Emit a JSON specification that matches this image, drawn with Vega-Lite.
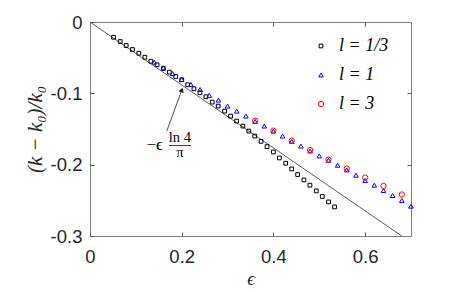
{
  "$schema": "https://vega.github.io/schema/vega-lite/v6.json",
  "width": 321,
  "height": 214,
  "autosize": {"type": "none"},
  "padding": {"left": 90, "top": 22, "right": 44, "bottom": 56},
  "background": "white",
  "config": {
    "view": {"stroke": "#808080", "strokeWidth": 1},
    "font": "Liberation Sans"
  },
  "datasets": {
    "ref": [{"eps": 0, "val": 0}, {"eps": 0.6798, "val": -0.3}],
    "pts": [
      {"eps": 0.0513, "val": -0.0214, "series": "l = 1/3"},
      {"eps": 0.0659, "val": -0.0274, "series": "l = 1/3"},
      {"eps": 0.0789, "val": -0.0330, "series": "l = 1/3"},
      {"eps": 0.0926, "val": -0.0386, "series": "l = 1/3"},
      {"eps": 0.1065, "val": -0.0438, "series": "l = 1/3"},
      {"eps": 0.1196, "val": -0.0494, "series": "l = 1/3"},
      {"eps": 0.1326, "val": -0.0550, "series": "l = 1/3"},
      {"eps": 0.1463, "val": -0.0600, "series": "l = 1/3"},
      {"eps": 0.1600, "val": -0.0652, "series": "l = 1/3"},
      {"eps": 0.1730, "val": -0.0703, "series": "l = 1/3"},
      {"eps": 0.1870, "val": -0.0764, "series": "l = 1/3"},
      {"eps": 0.2000, "val": -0.0810, "series": "l = 1/3"},
      {"eps": 0.2130, "val": -0.0880, "series": "l = 1/3"},
      {"eps": 0.2267, "val": -0.0936, "series": "l = 1/3"},
      {"eps": 0.2398, "val": -0.0992, "series": "l = 1/3"},
      {"eps": 0.2528, "val": -0.1048, "series": "l = 1/3"},
      {"eps": 0.2665, "val": -0.1123, "series": "l = 1/3"},
      {"eps": 0.2796, "val": -0.1179, "series": "l = 1/3"},
      {"eps": 0.2935, "val": -0.1249, "series": "l = 1/3"},
      {"eps": 0.3065, "val": -0.1319, "series": "l = 1/3"},
      {"eps": 0.3196, "val": -0.1389, "series": "l = 1/3"},
      {"eps": 0.3333, "val": -0.1459, "series": "l = 1/3"},
      {"eps": 0.3463, "val": -0.1529, "series": "l = 1/3"},
      {"eps": 0.3593, "val": -0.1599, "series": "l = 1/3"},
      {"eps": 0.3730, "val": -0.1673, "series": "l = 1/3"},
      {"eps": 0.3861, "val": -0.1747, "series": "l = 1/3"},
      {"eps": 0.4000, "val": -0.1822, "series": "l = 1/3"},
      {"eps": 0.4130, "val": -0.1906, "series": "l = 1/3"},
      {"eps": 0.4267, "val": -0.1980, "series": "l = 1/3"},
      {"eps": 0.4398, "val": -0.2060, "series": "l = 1/3"},
      {"eps": 0.4528, "val": -0.2139, "series": "l = 1/3"},
      {"eps": 0.4665, "val": -0.2214, "series": "l = 1/3"},
      {"eps": 0.4796, "val": -0.2288, "series": "l = 1/3"},
      {"eps": 0.4935, "val": -0.2368, "series": "l = 1/3"},
      {"eps": 0.5065, "val": -0.2446, "series": "l = 1/3"},
      {"eps": 0.5202, "val": -0.2522, "series": "l = 1/3"},
      {"eps": 0.5333, "val": -0.2592, "series": "l = 1/3"},
      {"eps": 0.14, "val": -0.0563, "series": "l = 1"},
      {"eps": 0.16, "val": -0.0642, "series": "l = 1"},
      {"eps": 0.18, "val": -0.0722, "series": "l = 1"},
      {"eps": 0.20, "val": -0.0806, "series": "l = 1"},
      {"eps": 0.22, "val": -0.0876, "series": "l = 1"},
      {"eps": 0.24, "val": -0.0945, "series": "l = 1"},
      {"eps": 0.26, "val": -0.1029, "series": "l = 1"},
      {"eps": 0.28, "val": -0.1095, "series": "l = 1"},
      {"eps": 0.30, "val": -0.1179, "series": "l = 1"},
      {"eps": 0.32, "val": -0.1249, "series": "l = 1"},
      {"eps": 0.34, "val": -0.1319, "series": "l = 1"},
      {"eps": 0.36, "val": -0.1393, "series": "l = 1"},
      {"eps": 0.38, "val": -0.1459, "series": "l = 1"},
      {"eps": 0.40, "val": -0.1529, "series": "l = 1"},
      {"eps": 0.42, "val": -0.1599, "series": "l = 1"},
      {"eps": 0.44, "val": -0.1673, "series": "l = 1"},
      {"eps": 0.46, "val": -0.1739, "series": "l = 1"},
      {"eps": 0.48, "val": -0.1808, "series": "l = 1"},
      {"eps": 0.50, "val": -0.1878, "series": "l = 1"},
      {"eps": 0.52, "val": -0.1938, "series": "l = 1"},
      {"eps": 0.54, "val": -0.2008, "series": "l = 1"},
      {"eps": 0.56, "val": -0.2074, "series": "l = 1"},
      {"eps": 0.58, "val": -0.2148, "series": "l = 1"},
      {"eps": 0.60, "val": -0.2222, "series": "l = 1"},
      {"eps": 0.62, "val": -0.2288, "series": "l = 1"},
      {"eps": 0.64, "val": -0.2362, "series": "l = 1"},
      {"eps": 0.66, "val": -0.2432, "series": "l = 1"},
      {"eps": 0.68, "val": -0.2502, "series": "l = 1"},
      {"eps": 0.70, "val": -0.2582, "series": "l = 1"},
      {"eps": 0.36, "val": -0.1383, "series": "l = 3"},
      {"eps": 0.40, "val": -0.1523, "series": "l = 3"},
      {"eps": 0.44, "val": -0.1663, "series": "l = 3"},
      {"eps": 0.48, "val": -0.1794, "series": "l = 3"},
      {"eps": 0.52, "val": -0.1929, "series": "l = 3"},
      {"eps": 0.56, "val": -0.2055, "series": "l = 3"},
      {"eps": 0.60, "val": -0.2181, "series": "l = 3"},
      {"eps": 0.64, "val": -0.2298, "series": "l = 3"},
      {"eps": 0.68, "val": -0.2418, "series": "l = 3"}
    ],
    "minus": [{"eps": 0.141, "val": -0.1720, "t": "−ϵ"}],
    "label": [
      {"eps": 0.196, "val": -0.1625, "t": "ln 4"},
      {"eps": 0.196, "val": -0.1830, "t": "π"}
    ],
    "bar": [{"eps": 0.1724, "eps2": 0.2202, "val": -0.1732}],
    "arrow": [{"eps": 0.1674, "val": -0.1529, "eps2": 0.2004, "val2": -0.0952}]
  },
  "layer": [
    {
      "data": {"name": "ref"},
      "mark": {"type": "line", "color": "#333333", "strokeWidth": 0.8, "clip": true},
      "encoding": {
        "x": {
          "field": "eps", "type": "quantitative",
          "scale": {"domain": [0, 0.7], "nice": false, "zero": false},
          "axis": {
            "orient": "bottom", "values": [0, 0.2, 0.4, 0.6], "domain": false, "grid": false,
            "tickSize": -4, "tickColor": "#555555", "tickWidth": 1,
            "labelExpr": "datum.value == 0 ? '0' : format(datum.value, '.1f')",
            "labelFont": "Liberation Sans", "labelFontSize": 18.5, "labelColor": "#262626",
            "labelPadding": 15, "labelFlush": false,
            "title": "ϵ", "titleFont": "Liberation Serif", "titleFontSize": 19,
            "titleFontStyle": "italic", "titleFontWeight": "normal", "titleColor": "#262626",
            "titlePadding": 4
          }
        },
        "y": {
          "field": "val", "type": "quantitative",
          "scale": {"domain": [-0.3, 0], "nice": false, "zero": false},
          "axis": {
            "orient": "left", "values": [0, -0.1, -0.2, -0.3], "domain": false, "grid": false,
            "tickSize": -4, "tickColor": "#555555", "tickWidth": 1,
            "labelExpr": "datum.value == 0 ? '0' : replace(format(datum.value, '.1f'), '−', '-')",
            "labelFont": "Liberation Sans", "labelFontSize": 18.5, "labelColor": "#262626",
            "labelPadding": 12, "labelFlush": false,
            "title": "(k − k₀)/k₀", "titleFont": "Liberation Serif", "titleFontSize": 21,
            "titleFontStyle": "italic", "titleFontWeight": "normal", "titleColor": "#262626",
            "titlePadding": 5
          }
        }
      }
    },
    {
      "data": {"name": "pts"},
      "mark": {"type": "point", "filled": false, "strokeWidth": 1, "opacity": 1},
      "encoding": {
        "x": {"field": "eps", "type": "quantitative", "axis": null},
        "y": {"field": "val", "type": "quantitative", "axis": null},
        "color": {
          "field": "series", "type": "nominal",
          "scale": {"domain": ["l = 1/3", "l = 1", "l = 3"], "range": ["#000000", "#0000ff", "#ff0000"]},
          "legend": {
            "orient": "none", "legendX": 222, "legendY": 15, "title": null, "padding": 0,
            "labelFont": "Liberation Serif", "labelFontStyle": "italic", "labelFontSize": 18,
            "labelColor": "#000000", "labelOffset": 9, "rowPadding": 11, "symbolStrokeWidth": 1
          }
        },
        "shape": {
          "field": "series", "type": "nominal",
          "scale": {"domain": ["l = 1/3", "l = 1", "l = 3"], "range": ["square", "triangle-up", "circle"]}
        },
        "size": {
          "field": "series", "type": "nominal",
          "scale": {"domain": ["l = 1/3", "l = 1", "l = 3"], "range": [14, 28, 16]}
        }
      }
    },
    {
      "data": {"name": "arrow"},
      "mark": {"type": "rule", "color": "#222222", "strokeWidth": 0.8},
      "encoding": {
        "x": {"field": "eps", "type": "quantitative", "axis": null},
        "y": {"field": "val", "type": "quantitative", "axis": null},
        "x2": {"field": "eps2"},
        "y2": {"field": "val2"}
      }
    },
    {
      "data": {"name": "arrow"},
      "mark": {"type": "point", "shape": "triangle-up", "filled": true, "color": "#222222", "size": 30, "angle": 20, "opacity": 1},
      "encoding": {
        "x": {"field": "eps2", "type": "quantitative", "axis": null},
        "y": {"field": "val2", "type": "quantitative", "axis": null}
      }
    },
    {
      "data": {"name": "minus"},
      "mark": {"type": "text", "font": "Liberation Serif", "fontSize": 17, "color": "#000000", "align": "center", "baseline": "middle"},
      "encoding": {
        "x": {"field": "eps", "type": "quantitative", "axis": null},
        "y": {"field": "val", "type": "quantitative", "axis": null},
        "text": {"field": "t"}
      }
    },
    {
      "data": {"name": "label"},
      "mark": {"type": "text", "font": "Liberation Serif", "fontSize": 14.5, "color": "#000000", "align": "center", "baseline": "middle"},
      "encoding": {
        "x": {"field": "eps", "type": "quantitative", "axis": null},
        "y": {"field": "val", "type": "quantitative", "axis": null},
        "text": {"field": "t"}
      }
    },
    {
      "data": {"name": "bar"},
      "mark": {"type": "rule", "color": "#000000", "strokeWidth": 0.8},
      "encoding": {
        "x": {"field": "eps", "type": "quantitative", "axis": null},
        "x2": {"field": "eps2"},
        "y": {"field": "val", "type": "quantitative", "axis": null}
      }
    },
    {
      "data": {"name": "ref"},
      "mark": {"type": "point", "opacity": 0},
      "encoding": {
        "x": {
          "field": "eps", "type": "quantitative",
          "axis": {"orient": "top", "values": [0.2, 0.4, 0.6], "domain": false, "grid": false, "labels": false, "title": null, "tickSize": -4, "tickColor": "#555555", "tickWidth": 1}
        },
        "y": {
          "field": "val", "type": "quantitative",
          "axis": {"orient": "right", "values": [-0.1, -0.2], "domain": false, "grid": false, "labels": false, "title": null, "tickSize": -4, "tickColor": "#555555", "tickWidth": 1}
        }
      }
    }
  ],
  "resolve": {"axis": {"x": "independent", "y": "independent"}}
}
